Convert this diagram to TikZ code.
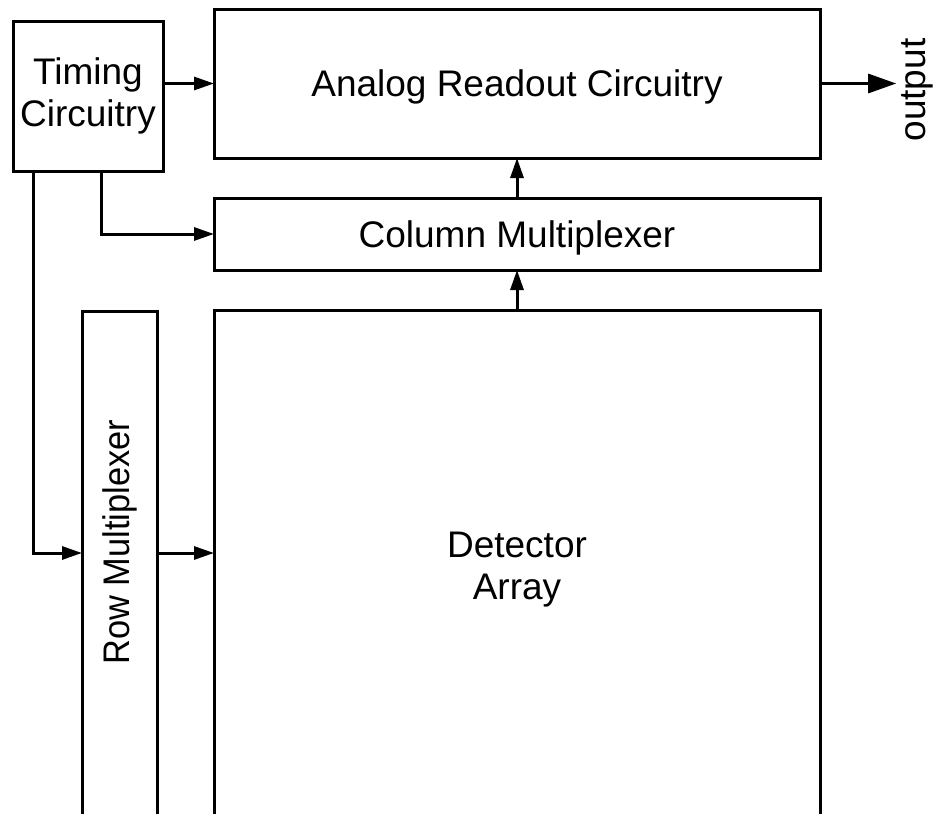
\documentclass[tikz,border=0pt]{standalone}
\usepackage{fontspec}
\setmainfont{Liberation Sans}
\usetikzlibrary{arrows.meta}

\tikzset{
  box/.style={draw, line width=3pt, inner sep=0pt, outer sep=0pt, align=center,
    font=\fontsize{37}{41.5}\selectfont},
  openbox/.style={box, draw=none},
  wire/.style={line width=3pt},
  arr/.style={wire, -{Triangle[length=20pt,width=13pt]}},
  bigarr/.style={wire, -{Triangle[length=28pt,width=19pt]}}
}

\begin{document}
\begin{tikzpicture}[x=1pt,y=-1pt]
\useasboundingbox (0,0) rectangle (934,814);
% blocks
\node[box, minimum width=150pt, minimum height=150pt] (timing) at (88,96) {Timing\\Circuitry};
\node[box, text depth=0pt, minimum width=606pt, minimum height=149pt] (analog) at (517,83.5) {Analog Readout Circuitry};
\node[box, text depth=0pt, minimum width=606pt, minimum height=72pt] (column) at (517,234) {Column Multiplexer};
\node[openbox, minimum width=75pt, minimum height=462pt] (row) at (119.5,542) {\rotatebox{90}{\scalebox{0.93}[1]{Row Multiplexer}}};
\node[openbox, text depth=0pt, minimum width=606pt, minimum height=512pt] (detector) at (517,566) {Detector\\Array};
\node[openbox, anchor=center] (out) at (917,90) {\rotatebox{90}{output}};
% open bottoms
\draw[wire] (row.north west |- 0,814) -- (row.north west) -- (row.north east) -- (row.north east |- 0,814);
\draw[wire] (detector.north west |- 0,814) -- (detector.north west) -- (detector.north east) -- (detector.north east |- 0,814);
% connections
\draw[arr] (timing.east |- analog.west) -- (analog.west);
\draw[arr] ([xshift=13pt]timing.south) |- (column.west);
\draw[arr] ([xshift=-55pt]timing.south) |- ([yshift=-11pt]row.west);
\draw[arr] ([yshift=-11pt]row.east) -- ([yshift=-11pt]row.east -| detector.west);
\draw[arr] (detector.north) -- (column.south);
\draw[arr] (column.north) -- (analog.south);
\draw[bigarr] (analog.east) -- ([xshift=-5pt]out.west |- analog.east);
\end{tikzpicture}
\end{document}
